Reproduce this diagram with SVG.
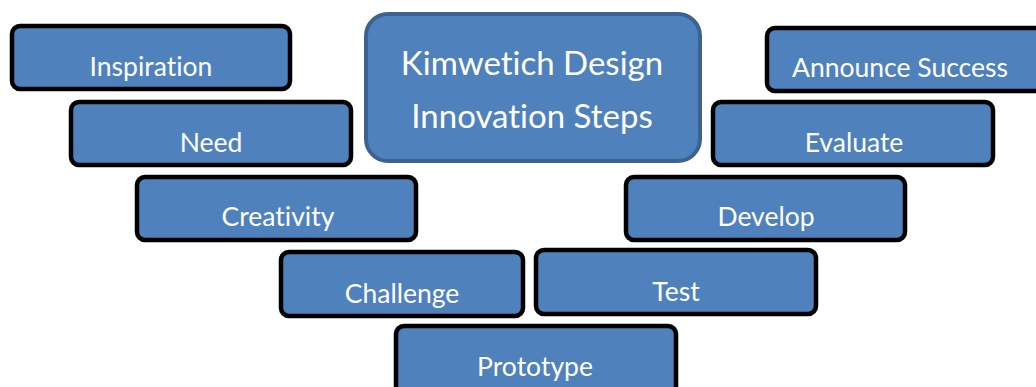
<svg xmlns="http://www.w3.org/2000/svg" width="1036" height="387" viewBox="0 0 1036 387">
  <style>
    .step rect { fill: #4f81bd; stroke: #000000; stroke-width: 4.5; }
    .step text { fill: #ffffff; font-family: Lato, "Open Sans", sans-serif; font-size: 26.5px; text-anchor: middle; font-variant-ligatures: none; }
    #title rect { fill: #4f81bd; stroke: #3b6290; stroke-width: 4; }
    #title text { fill: #ffffff; font-family: Lato, "Open Sans", sans-serif; font-size: 33px; text-anchor: middle; font-variant-ligatures: none; }
  </style>
  <rect width="1036" height="387" fill="#ffffff"/>
  <g id="connectors"/>

  <!-- left arm of the V -->
  <g id="inspiration" class="step">
    <rect x="12" y="26" width="278" height="63" rx="8"/>
    <text x="151" y="76">Inspiration</text>
  </g>
  <g id="need" class="step">
    <rect x="71" y="102" width="280" height="63" rx="8"/>
    <text x="211" y="152">Need</text>
  </g>
  <g id="creativity" class="step">
    <rect x="137" y="177" width="279" height="63" rx="8"/>
    <text x="278" y="226">Creativity</text>
  </g>
  <g id="challenge" class="step">
    <rect x="281" y="252" width="242" height="64" rx="8"/>
    <text x="402" y="303">Challenge</text>
  </g>

  <!-- bottom of the V -->
  <g id="prototype" class="step">
    <rect x="396" y="326" width="280" height="70" rx="8"/>
    <text x="535" y="376">Prototype</text>
  </g>

  <!-- right arm of the V -->
  <g id="test" class="step">
    <rect x="536" y="250" width="280" height="64" rx="8"/>
    <text x="676" y="301">Test</text>
  </g>
  <g id="develop" class="step">
    <rect x="626" y="177" width="279" height="63" rx="8"/>
    <text x="766" y="226">Develop</text>
  </g>
  <g id="evaluate" class="step">
    <rect x="713" y="102" width="280" height="63" rx="8"/>
    <text x="854" y="152">Evaluate</text>
  </g>
  <g id="announce-success" class="step">
    <rect x="767" y="28" width="290" height="63" rx="8"/>
    <text x="900" y="77">Announce Success</text>
  </g>

  <!-- heading box -->
  <g id="title">
    <rect x="366" y="14" width="334" height="147" rx="22"/>
    <text x="532" y="75">Kimwetich Design</text>
    <text x="532" y="128">Innovation Steps</text>
  </g>
</svg>
